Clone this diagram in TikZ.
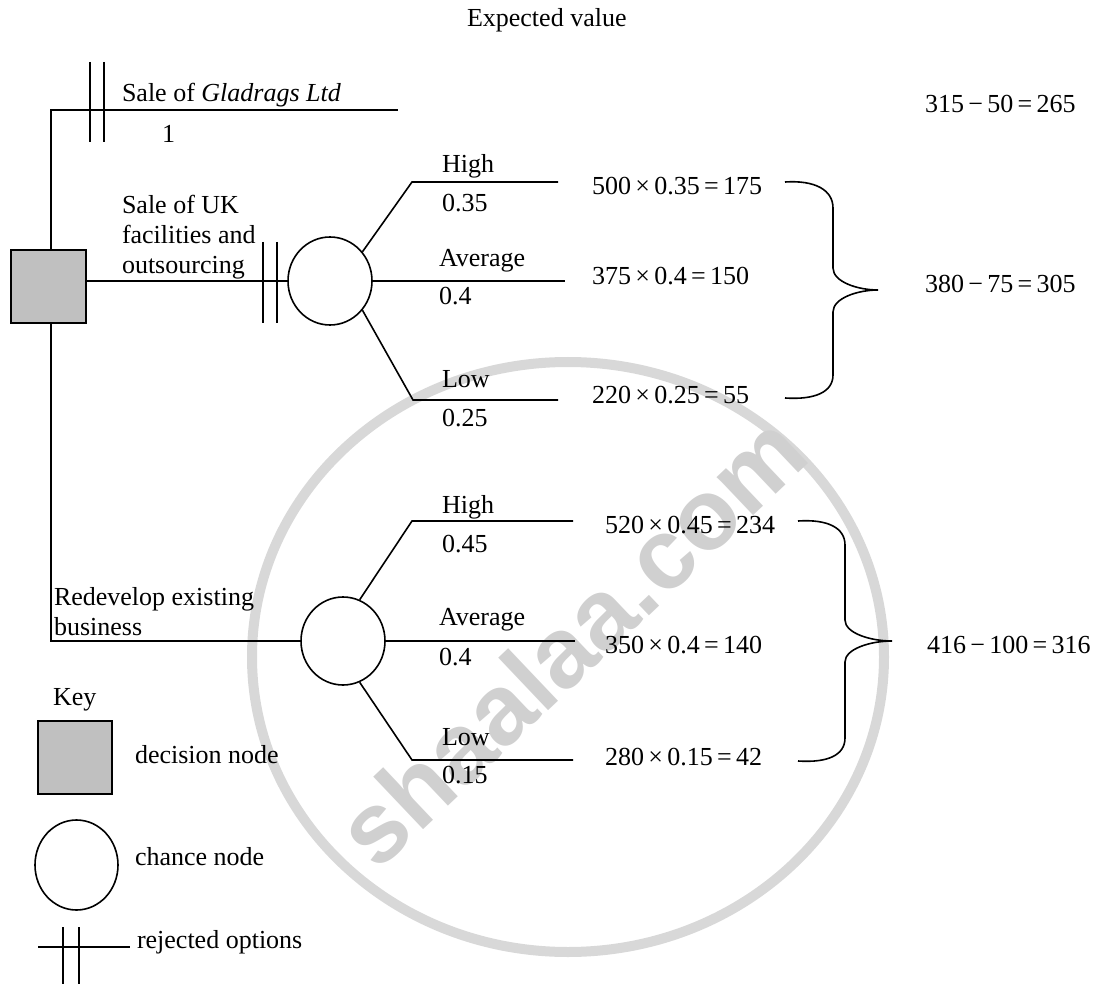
\documentclass[tikz,border=0pt]{standalone}
\usepackage{fontspec}
\setmainfont{Liberation Serif}
\newfontfamily\wmfont{Liberation Sans}
\usetikzlibrary{shapes.geometric}
\definecolor{decgray}{RGB}{192,192,192}
\definecolor{wmcirc}{RGB}{216,216,216}
\definecolor{wmtext}{RGB}{208,208,208}
\begin{document}
\begin{tikzpicture}[x=1pt,y=-1pt,line width=1.6pt,
  lbl/.style={anchor=base west,inner sep=0pt,outer sep=0pt,font=\fontsize{26}{30}\selectfont},
  decision/.style={draw,fill=decgray,rectangle,inner sep=0pt,minimum width=75pt,minimum height=73pt},
  chance/.style={draw,ellipse,inner sep=0pt,minimum width=84pt,minimum height=88pt},
  brace/.style={line width=1.6pt}]
\useasboundingbox (0,0) rectangle (1098,984);
% watermark
\draw[wmcirc,line width=10pt] (568,657) ellipse [x radius=316, y radius=295];
\node[rotate=43.5,text=wmtext,font=\wmfont\bfseries\fontsize{100}{100}\selectfont,inner sep=0pt] (wm) at (571,640) {shaalaa.com};

% title
\node[lbl] (title) at (467,27) {Expected value};

% decision node and chance nodes
\node[decision] (d) at (48.5,286.5) {};
\node[chance] (c1) at (330,281) {};
\node[chance] (c2) at (343,641) {};

\coordinate (topCorner) at (51,110);
\coordinate (topEnd) at (398,110);
\draw (topCorner |- d.north) -- (topCorner) -- (topEnd);
\draw (d.east |- c1.west) -- (c1.west);
\draw (topCorner |- d.south) -- (topCorner |- c2.west) -- (c2.west);

% rejection marks
\draw (90,62) -- (90,142);
\draw (104,62) -- (104,142);
\draw (263,242) -- (263,323);
\draw (277,242) -- (277,323);

% upper tree
\coordinate (h1) at (412,182); \coordinate (h1e) at (558,182);
\coordinate (a1e) at (565,281);
\coordinate (l1) at (413,400); \coordinate (l1e) at (558,400);
\draw (c1.42) -- (h1) -- (h1e);
\draw (c1.east) -- (a1e);
\draw (c1.-42) -- (l1) -- (l1e);

% lower tree
\coordinate (h2) at (412,521); \coordinate (h2e) at (573,521);
\coordinate (a2e) at (575,641);
\coordinate (l2) at (412,760); \coordinate (l2e) at (573,760);
\draw (c2.68) -- (h2) -- (h2e);
\draw (c2.east) -- (a2e);
\draw (c2.-68) -- (l2) -- (l2e);

% branch labels
\node[lbl] (t1) at (122,102) {Sale of \textit{Gladrags Ltd}};
\node[lbl] (t1p) at (162,143) {1};
\node[lbl] (t2a) at (122,214) {Sale of UK};
\node[lbl] (t2b) at (122,244) {facilities and};
\node[lbl] (t2c) at (122,274) {outsourcing};
\node[lbl] (t3a) at (54,605) {Redevelop existing};
\node[lbl] (t3b) at (54,635) {business};

\node[lbl] (uh) at (442,173) {High};
\node[lbl] (uhp) at (442,212) {0.35};
\node[lbl] (ua) at (439,267) {Average};
\node[lbl] (uap) at (439,305) {0.4};
\node[lbl] (ul) at (442,387) {Low};
\node[lbl] (ulp) at (442,426) {0.25};

\node[lbl] (lh) at (442,513) {High};
\node[lbl] (lhp) at (442,552) {0.45};
\node[lbl] (la) at (439,625) {Average};
\node[lbl] (lap) at (439,665) {0.4};
\node[lbl] (ll) at (442,745) {Low};
\node[lbl] (llp) at (442,783) {0.15};

% values
\node[lbl] (v1) at (592,195) {500\,×\,0.35\,=\,175};
\node[lbl] (v2) at (592,285) {375\,×\,0.4\,=\,150};
\node[lbl] (v3) at (592,403) {220\,×\,0.25\,=\,55};
\node[lbl] (v4) at (605,533) {520\,×\,0.45\,=\,234};
\node[lbl] (v5) at (605,653) {350\,×\,0.4\,=\,140};
\node[lbl] (v6) at (605,765) {280\,×\,0.15\,=\,42};

\node[lbl] (r1) at (925,113) {315\,−\,50\,=\,265};
\node[lbl] (r2) at (925,293) {380\,−\,75\,=\,305};
\node[lbl] (r3) at (927,653) {416\,−\,100\,=\,316};

% braces
\draw[brace] (785,182) .. controls (815,180) and (833,190) .. (833,208) -- (833,268)
  .. controls (833,282) and (858,290) .. (878,290)
  .. controls (858,290) and (833,298) .. (833,312) -- (833,375)
  .. controls (833,392) and (815,400) .. (785,398);
\draw[brace] (798,521) .. controls (828,519) and (845,528) .. (845,545) -- (845,620)
  .. controls (845,633) and (870,641) .. (892,641)
  .. controls (870,641) and (845,649) .. (845,662) -- (845,738)
  .. controls (845,755) and (828,763) .. (798,761);

% key
\node[lbl] (key) at (53,705) {Key};
\node[decision,minimum width=74pt,minimum height=73pt] (kd) at (75,757.5) {};
\node[lbl] (kdl) at (135,763) {decision node};
\node[chance,minimum width=83pt,minimum height=90pt] (kc) at (76.5,865) {};
\node[lbl] (kcl) at (135,865) {chance node};
\coordinate (kr1) at (38,947);
\coordinate (kr2) at (130,947);
\draw (kr1) -- (kr2);
\draw (63,927) -- (63,992);
\draw (79,927) -- (79,992);
\node[lbl] (krl) at (137,948) {rejected options};
\end{tikzpicture}
\end{document}
